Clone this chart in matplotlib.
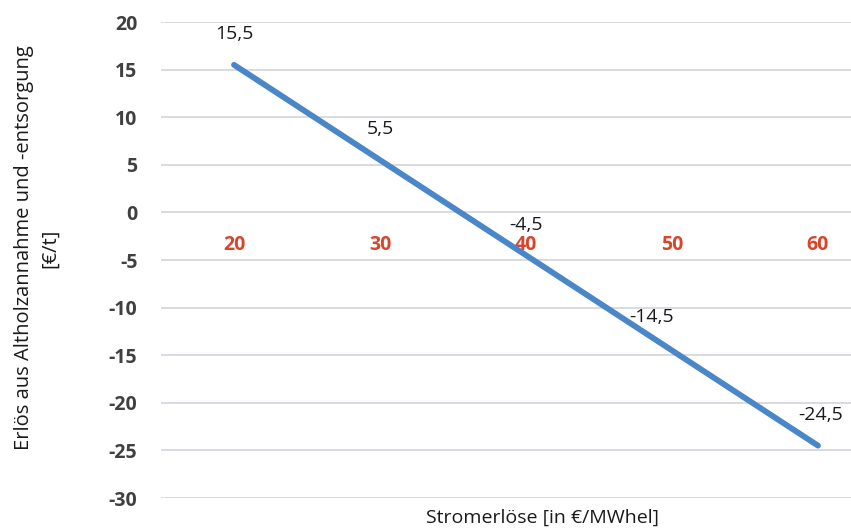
import matplotlib.pyplot as plt

strompreis = [20, 30, 40, 50, 60]
erloes = [15.5, 5.5, -4.5, -14.5, -24.5]
y_ticks = [20, 15, 10, 5, 0, -5, -10, -15, -20, -25, -30]

plt.rcParams["font.family"] = ["Open Sans", "DejaVu Sans"]

fig = plt.figure(figsize=(8.51, 5.30), dpi=100)
# plot area runs past the right edge of the figure
ax = fig.add_axes([161 / 851, 32 / 530, 730 / 851, 476 / 530])

pos = list(range(len(strompreis)))
ax.plot(pos, erloes, color="#4a87c8", lw=4.2, solid_capstyle="round", zorder=3)

label_dx = [0, 0, 0, -15, 2]
label_dy = [22, 22, 22, 24, 22]
for x, y, dx, dy in zip(pos, erloes, label_dx, label_dy):
    ax.annotate(f"{y:.1f}".replace(".", ","), (x, y), xytext=(dx, dy),
                textcoords="offset points", ha="center", va="center",
                fontsize=14, color="#1a1a1a")

ax.set_xlim(-0.5, len(pos) - 0.5)
ax.set_ylim(-30, 20)
ax.set_yticks(y_ticks)
ax.set_yticklabels([str(v) for v in y_ticks], fontsize=14, fontweight="bold",
                   color="#404040")
ax.grid(axis="y", color="#d4d8dc", lw=1.3)
ax.set_axisbelow(True)

# category labels sit along the zero line
ax.spines["bottom"].set_position(("data", 0))
for s in ax.spines.values():
    s.set_visible(False)
ax.set_xticks(pos)
ax.set_xticklabels([str(v) for v in strompreis], fontsize=14,
                   fontweight="bold", color="#d9452b")
ax.tick_params(axis="x", length=0, pad=16)
ax.tick_params(axis="y", length=0, pad=17)

fig.text(543 / 851, 1 - 518 / 530, "Stromerlöse [in €/MWhel]", ha="center",
         va="center", fontsize=14, color="#1a1a1a")
fig.text(37 / 851, 1 - 248 / 530, "Erlös aus Altholzannahme und -entsorgung\n[€/t]",
         ha="center", va="center", rotation=90, fontsize=14.5, color="#1a1a1a",
         multialignment="center", linespacing=1.4)

fig.savefig("out.png", dpi=100)
